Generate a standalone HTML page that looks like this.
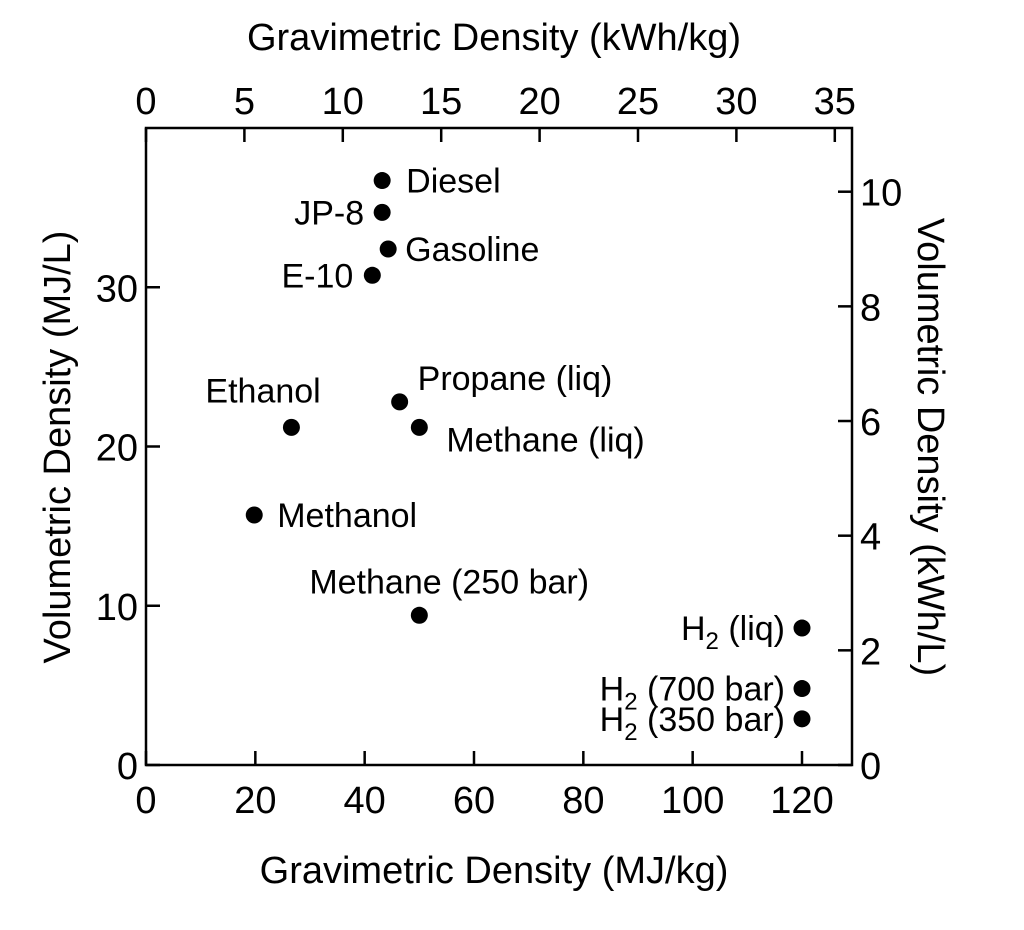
<!DOCTYPE html>
<html><head><meta charset="utf-8"><style>
body{margin:0;background:#fff;}
svg{display:block;font-family:"Liberation Sans",Arial,sans-serif;}
</style></head><body>
<svg id="chart" width="1024" height="930" viewBox="0 0 1024 930">
<rect x="0" y="0" width="1024" height="930" fill="#fff"/>
<g id="g"></g>
</svg>
<script>
const names=["Diesel","JP-8","Gasoline","E-10","Ethanol","Propane (liq)","Methane (liq)","Methanol","Methane (250 bar)","H2 (liq)","H2 (700 bar)","H2 (350 bar)"];
const gravimetric=[43.2,43.2,44.3,41.4,26.6,46.4,50,19.8,50,120,120,120];
const volumetric=[36.7,34.7,32.4,30.75,21.2,22.8,21.2,15.7,9.4,8.6,4.8,2.9];
const bottomTicks=[0,20,40,60,80,100,120];
const topTicks=[0,5,10,15,20,25,30,35];
const leftTicks=[0,10,20,30];
const rightTicks=[0,2,4,6,8,10];
const labelPos=[[24,12,"start"],[-18,12,"end"],[17,12,"start"],[-19,12,"end"],[-86,-25,"start"],[18,-12,"start"],[27,24,"start"],[23,12,"start"],[-110,-22,"start"],[-17,12,"end"],[-17,12,"end"],[-17,12,"end"]];
const L=146,R=852,T=128,B=765;
const xs=v=>L+v*(802-L)/120;
const ys=v=>B-v*(B-T)/40;
const NS="http://www.w3.org/2000/svg";
const g=document.getElementById('g');
function el(t,a,txt){const e=document.createElementNS(NS,t);for(const k in a)e.setAttribute(k,a[k]);if(txt!==undefined)e.textContent=txt;g.appendChild(e);return e;}
let r=el('rect',{x:L,y:T,width:R-L,height:B-T,fill:'none',stroke:'#000','stroke-width':2.5});


bottomTicks.forEach(v=>{const x=xs(v);
 let t=el('line',{x1:x,x2:x,y1:B,y2:B-14,stroke:'#000','stroke-width':2.5});
 
 
 let s=el('text',{x:x,y:813,'font-size':38,'text-anchor':'middle'},v);
 
 });
topTicks.forEach(v=>{const x=xs(v*3.6);
 let t=el('line',{x1:x,x2:x,y1:T,y2:T+14,stroke:'#000','stroke-width':2.5});
 
 
 let s=el('text',{x:x,y:114,'font-size':38,'text-anchor':'middle'},v);
 
 });
leftTicks.forEach(v=>{const y=ys(v);
 let t=el('line',{x1:L,x2:L+14,y1:y,y2:y,stroke:'#000','stroke-width':2.5});
 
 
 let s=el('text',{x:L-8,y:y+14,'font-size':38,'text-anchor':'end'},v);
 
 });
rightTicks.forEach(v=>{const y=ys(v*3.6);
 let t=el('line',{x1:R,x2:R-14,y1:y,y2:y,stroke:'#000','stroke-width':2.5});
 
 
 let s=el('text',{x:R+8,y:y+14,'font-size':38,'text-anchor':'start'},v);
 
 });
names.forEach((n,i)=>{const x=xs(gravimetric[i]),y=ys(volumetric[i]);
 let c=el('circle',{cx:x,cy:y,r:8.5,fill:'#000'});
 
 
 const p=labelPos[i];
 let s=el('text',{x:x+p[0],y:y+p[1],'font-size':34,'text-anchor':p[2]});
 
 
 if(n.startsWith('H2')){
  s.appendChild(document.createTextNode('H'));
  const sub=document.createElementNS(NS,'tspan');sub.setAttribute('font-size',24);sub.setAttribute('dy',9);sub.textContent='2';s.appendChild(sub);
  const rest=document.createElementNS(NS,'tspan');rest.setAttribute('dy',-9);rest.textContent=n.slice(2);s.appendChild(rest);
 } else s.textContent=n;});
let a=el('text',{x:494,y:883,'font-size':38,'text-anchor':'middle'},'Gravimetric Density (MJ/kg)');

a=el('text',{x:494,y:50,'font-size':38,'text-anchor':'middle'},'Gravimetric Density (kWh/kg)');

a=el('text',{x:0,y:0,'font-size':38,'text-anchor':'middle',transform:'translate(70,447) rotate(-90)'},'Volumetric Density (MJ/L)');

a=el('text',{x:0,y:0,'font-size':38,'text-anchor':'middle',transform:'translate(918,447) rotate(90)'},'Volumetric Density (kWh/L)');

</script>
</body></html>
